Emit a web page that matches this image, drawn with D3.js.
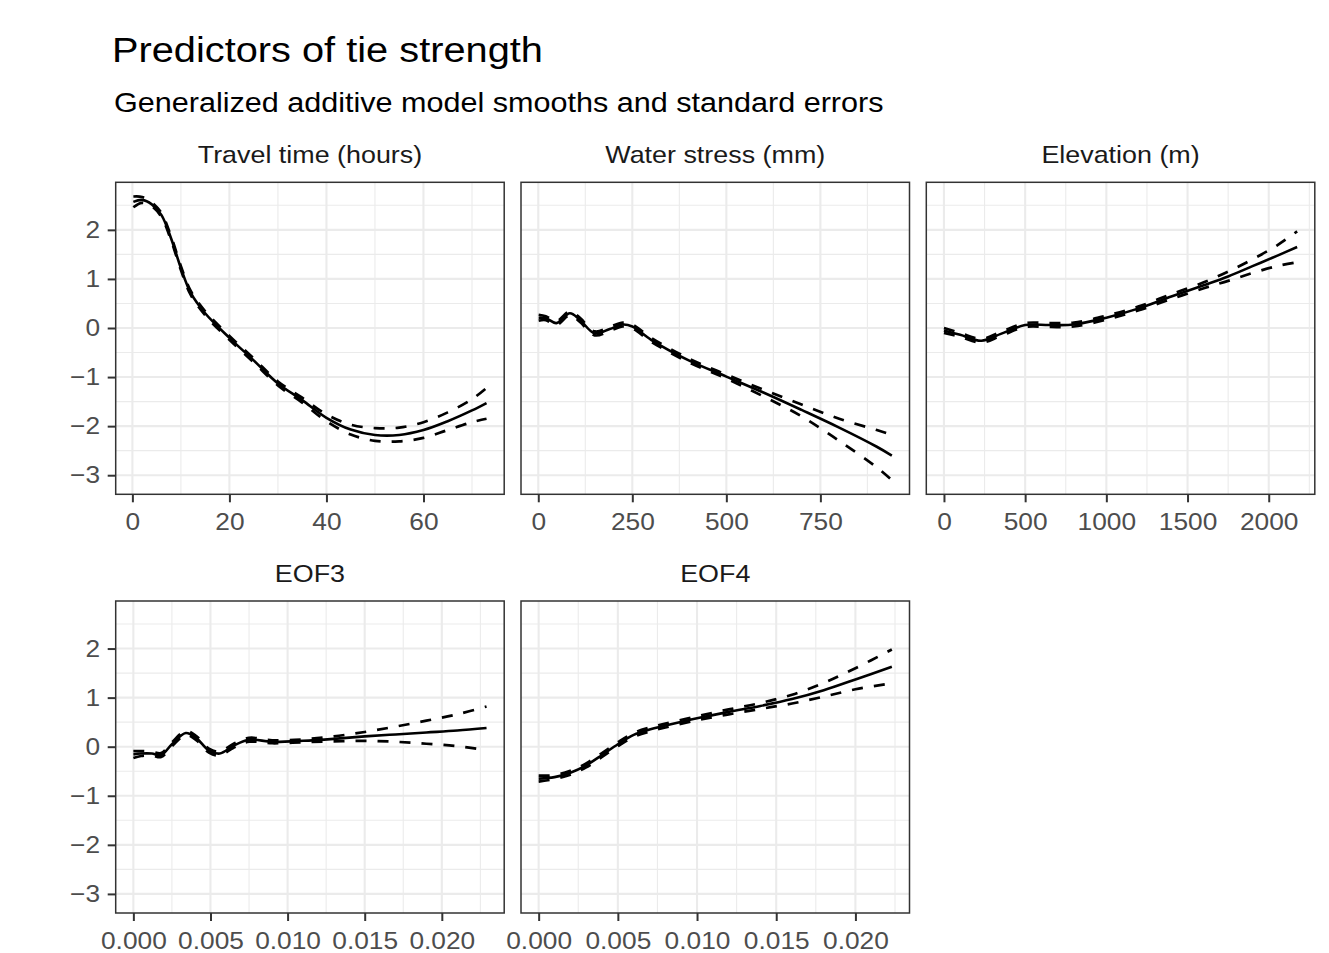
<!DOCTYPE html>
<html>
<head>
<meta charset="utf-8">
<script src="https://cdn.jsdelivr.net/npm/d3@7"></script>
<style>
  body { margin: 0; background: #fff; }
  text { font-family: "Liberation Sans", Arial, sans-serif; }
</style>
</head>
<body>
<div class="container"></div>
<script>
var width = 1329;
var height = 953;

// Travel time (hours)
var travelX     = [0.2, 2, 4, 6, 8, 10, 12, 15, 20, 25, 30, 35, 40, 45, 50, 55, 60, 65, 70, 73];
var travelFit   = [2.57, 2.61, 2.52, 2.30, 1.82, 1.22, 0.72, 0.30, -0.20, -0.66, -1.13, -1.47, -1.83, -2.07, -2.18, -2.18, -2.08, -1.90, -1.68, -1.53];
var travelUpper = [2.68, 2.67, 2.56, 2.34, 1.86, 1.26, 0.76, 0.34, -0.16, -0.62, -1.09, -1.42, -1.76, -1.97, -2.04, -2.03, -1.92, -1.72, -1.45, -1.22];
var travelLower = [2.46, 2.55, 2.48, 2.26, 1.78, 1.18, 0.68, 0.26, -0.24, -0.70, -1.17, -1.52, -1.90, -2.17, -2.30, -2.31, -2.24, -2.08, -1.92, -1.85];
var travelTicks = [0, 20, 40, 60];

// Water stress (mm)
var waterX     = [1, 20, 48, 84, 110, 150, 190, 225, 250, 300, 400, 500, 600, 700, 800, 900, 940];
var waterFit   = [0.21, 0.20, 0.10, 0.30, 0.17, -0.11, -0.02, 0.07, 0.03, -0.24, -0.66, -0.99, -1.32, -1.67, -2.03, -2.42, -2.60];
var waterUpper = [0.27, 0.24, 0.14, 0.34, 0.21, -0.07, 0.02, 0.11, 0.07, -0.20, -0.62, -0.95, -1.26, -1.56, -1.85, -2.08, -2.18];
var waterLower = [0.15, 0.16, 0.06, 0.26, 0.13, -0.15, -0.06, 0.03, -0.01, -0.28, -0.70, -1.03, -1.40, -1.80, -2.30, -2.84, -3.10];
var waterTicks = [0, 250, 500, 750];

// Elevation (m)
var elevX     = [0, 100, 230, 350, 500, 650, 800, 1000, 1200, 1400, 1600, 1750, 1900, 2050, 2175];
var elevFit   = [-0.05, -0.14, -0.26, -0.12, 0.06, 0.06, 0.07, 0.21, 0.40, 0.64, 0.87, 1.05, 1.26, 1.47, 1.65];
var elevUpper = [0.00, -0.10, -0.22, -0.08, 0.10, 0.10, 0.11, 0.25, 0.44, 0.69, 0.93, 1.15, 1.40, 1.68, 1.97];
var elevLower = [-0.10, -0.18, -0.30, -0.16, 0.02, 0.02, 0.03, 0.17, 0.36, 0.59, 0.81, 0.96, 1.12, 1.26, 1.34];
var elevTicks = [0, 500, 1000, 1500, 2000];

// EOF3
var eof3X     = [0, 0.0005, 0.0012, 0.0018, 0.0025, 0.0034, 0.0041, 0.0049, 0.0056, 0.0065, 0.0075, 0.009, 0.011, 0.013, 0.015, 0.017, 0.019, 0.021, 0.0229];
var eof3Fit   = [-0.16, -0.14, -0.14, -0.17, 0.05, 0.28, 0.17, -0.08, -0.14, 0.02, 0.14, 0.10, 0.12, 0.16, 0.21, 0.25, 0.29, 0.33, 0.38];
var eof3Upper = [-0.09, -0.09, -0.10, -0.13, 0.09, 0.32, 0.21, -0.04, -0.10, 0.06, 0.18, 0.13, 0.15, 0.21, 0.30, 0.41, 0.53, 0.66, 0.82];
var eof3Lower = [-0.23, -0.19, -0.18, -0.21, 0.01, 0.24, 0.13, -0.12, -0.18, -0.02, 0.10, 0.07, 0.09, 0.11, 0.12, 0.10, 0.06, 0.01, -0.07];

// EOF4
var eof4X     = [0, 0.001, 0.002, 0.003, 0.004, 0.005, 0.006, 0.007, 0.008, 0.010, 0.012, 0.014, 0.016, 0.018, 0.020, 0.0223];
var eof4Fit   = [-0.65, -0.62, -0.53, -0.38, -0.17, 0.05, 0.24, 0.35, 0.43, 0.58, 0.71, 0.83, 0.97, 1.15, 1.37, 1.63];
var eof4Upper = [-0.59, -0.58, -0.49, -0.34, -0.13, 0.09, 0.28, 0.39, 0.47, 0.62, 0.76, 0.89, 1.06, 1.30, 1.60, 1.98];
var eof4Lower = [-0.71, -0.66, -0.57, -0.42, -0.21, 0.01, 0.20, 0.31, 0.39, 0.54, 0.66, 0.77, 0.88, 1.02, 1.17, 1.29];
var eofTicks = [0, 0.005, 0.010, 0.015, 0.020];

var yTicks = [-3, -2, -1, 0, 1, 2];

var panels = [
    {title: 'Travel time (hours)', x: travelX, fit: travelFit, upper: travelUpper, lower: travelLower, ticks: travelTicks, fmt: d3.format('d'), col: 0, row: 0},
    {title: 'Water stress (mm)', x: waterX, fit: waterFit, upper: waterUpper, lower: waterLower, ticks: waterTicks, fmt: d3.format('d'), col: 1, row: 0},
    {title: 'Elevation (m)', x: elevX, fit: elevFit, upper: elevUpper, lower: elevLower, ticks: elevTicks, fmt: d3.format('d'), col: 2, row: 0},
    {title: 'EOF3', x: eof3X, fit: eof3Fit, upper: eof3Upper, lower: eof3Lower, ticks: eofTicks, fmt: d3.format('.3f'), col: 0, row: 1},
    {title: 'EOF4', x: eof4X, fit: eof4Fit, upper: eof4Upper, lower: eof4Lower, ticks: eofTicks, fmt: d3.format('.3f'), col: 1, row: 1}
];

// layout
var stretch = 1.12;   // the reference text is a bit wide
var panelW = 388.5;
var panelH = 312;
var colLeft = [115.7, 521, 926.3];
var rowTop = [182.3, 601];

var translate = function(x, y) {
    return 'translate(' + x + ',' + y + ')';
};

var expand = function(ext) {
    var pad = (ext[1] - ext[0]) * 0.05;
    return [ext[0] - pad, ext[1] + pad];
};

var allY = [];
panels.forEach(function(p) { allY = allY.concat(p.upper, p.lower, p.fit); });
var YScale = d3.scaleLinear()
    .domain(expand(d3.extent(allY)))
    .range([panelH, 0]);

var minorOf = function(ticks, domain) {
    var step = ticks[1] - ticks[0];
    var out = [];
    for (var i = -1; i < ticks.length; i++) {
        var v = ticks[0] + step * (i + 0.5);
        if (v > domain[0] && v < domain[1]) out.push(v);
    }
    return out;
};

var svg = d3.select('.container').append('svg')
    .attr('width', width)
    .attr('height', height)
    .style('background', '#fff');

svg.append('text')
    .attr('transform', translate(112, 61.7) + ' scale(' + stretch + ',1)')
    .attr('font-size', 35.5)
    .attr('fill', '#000')
    .text('Predictors of tie strength');

svg.append('text')
    .attr('transform', translate(114, 111.7) + ' scale(' + stretch + ',1)')
    .attr('font-size', 27.3)
    .attr('fill', '#000')
    .text('Generalized additive model smooths and standard errors');

var styleText = function(sel) {
    sel.attr('transform', 'scale(' + stretch + ',1)')
        .attr('font-size', 23.5).attr('fill', '#4d4d4d')
        .attr('font-family', '"Liberation Sans", Arial, sans-serif');
};

panels.forEach(function(p) {
    var left = colLeft[p.col];
    var top = rowTop[p.row];
    var XScale = d3.scaleLinear()
        .domain(expand(d3.extent(p.x)))
        .range([0, panelW]);

    var g = svg.append('g').attr('transform', translate(left, top));

    // grid
    var xMinor = minorOf(p.ticks, XScale.domain());
    var yMinor = minorOf(yTicks, YScale.domain());
    var grid = g.append('g').attr('stroke', '#ebebeb').attr('fill', 'none');
    grid.selectAll('.vmin').data(xMinor).enter().append('line')
        .attr('x1', XScale).attr('x2', XScale).attr('y1', 0).attr('y2', panelH)
        .attr('stroke-width', 1.1);
    grid.selectAll('.hmin').data(yMinor).enter().append('line')
        .attr('y1', YScale).attr('y2', YScale).attr('x1', 0).attr('x2', panelW)
        .attr('stroke-width', 1.1);
    grid.selectAll('.vmaj').data(p.ticks).enter().append('line')
        .attr('x1', XScale).attr('x2', XScale).attr('y1', 0).attr('y2', panelH)
        .attr('stroke-width', 2.1);
    grid.selectAll('.hmaj').data(yTicks).enter().append('line')
        .attr('y1', YScale).attr('y2', YScale).attr('x1', 0).attr('x2', panelW)
        .attr('stroke-width', 2.1);

    // smooth + bands
    var line = function(ys) {
        return d3.line()
            .x(function(d, i) { return XScale(p.x[i]); })
            .y(function(d) { return YScale(d); })
            .curve(d3.curveCatmullRom.alpha(0.5))(ys);
    };
    g.append('path').attr('d', line(p.upper))
        .attr('fill', 'none').attr('stroke', '#000').attr('stroke-width', 2.7)
        .attr('stroke-dasharray', '11,11');
    g.append('path').attr('d', line(p.lower))
        .attr('fill', 'none').attr('stroke', '#000').attr('stroke-width', 2.7)
        .attr('stroke-dasharray', '11,11');
    g.append('path').attr('d', line(p.fit))
        .attr('fill', 'none').attr('stroke', '#000').attr('stroke-width', 2.6);

    // border
    g.append('rect')
        .attr('width', panelW).attr('height', panelH)
        .attr('fill', 'none').attr('stroke', '#333333').attr('stroke-width', 1.5);

    // x axis
    var xAxis = d3.axisBottom(XScale).tickValues(p.ticks).tickSize(8).tickPadding(11).tickFormat(p.fmt);
    var xa = g.append('g').attr('transform', translate(0, panelH)).call(xAxis);
    xa.select('.domain').remove();
    xa.selectAll('line').attr('stroke', '#333333').attr('stroke-width', 2);
    styleText(xa.selectAll('text'));

    // y axis only on the first column
    if (p.col === 0) {
        var yAxis = d3.axisLeft(YScale).tickValues(yTicks).tickSize(8).tickPadding(6).tickFormat(d3.format('d'));
        var ya = g.append('g').call(yAxis);
        ya.select('.domain').remove();
        ya.selectAll('line').attr('stroke', '#333333').attr('stroke-width', 2);
        styleText(ya.selectAll('text'));
    }

    // strip label
    svg.append('text')
        .attr('transform', translate(left + panelW / 2, top - 19) + ' scale(' + stretch + ',1)')
        .attr('text-anchor', 'middle')
        .attr('font-size', 24)
        .attr('fill', '#1a1a1a')
        .text(p.title);
});
</script>
</body>
</html>
